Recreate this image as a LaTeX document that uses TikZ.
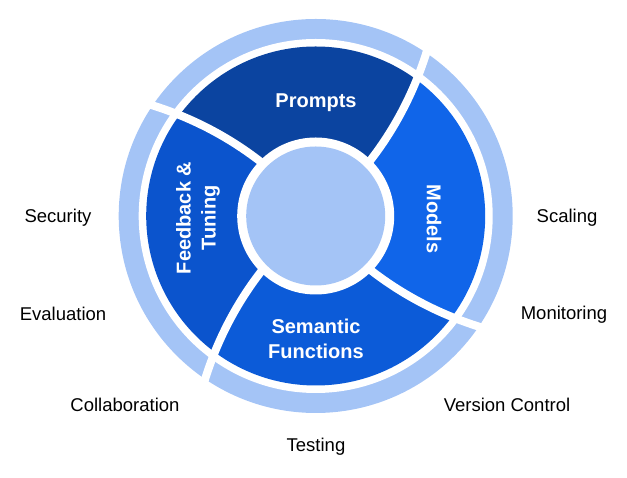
\documentclass[tikz,border=0pt]{standalone}
\usepackage{fontspec}
\setmainfont{Liberation Sans}
\definecolor{promptsblue}{RGB}{11,68,160}
\definecolor{modelsblue}{RGB}{16,101,233}
\definecolor{semanticblue}{RGB}{12,91,216}
\definecolor{feedbackblue}{RGB}{11,84,205}
\definecolor{paleblue}{RGB}{164,196,246}
\begin{document}
\begin{tikzpicture}[x=1pt,y=1pt,
  % angle of a spiral divider k at radius r
  declare function={spa(\k,\r)=45.5+90*\k+8*(\r-78)/92;},
  divider/.style={draw=white, line width=8pt},
  seglabel/.style={text=white, font=\fontsize{20}{25}\selectfont\bfseries, align=center, inner sep=0pt},
  outlabel/.style={text=black, font=\fontsize{18.5}{21}\selectfont, inner sep=0pt}]
\useasboundingbox (0,0) rectangle (627,478);
\begin{scope}[shift={(315.7,262)}]
  % outer pale ring
  \fill[paleblue] (0,0) circle (197);
  \fill[white] (0,0) circle (177);
  % four coloured sectors
  \begin{scope}
    \clip (0,0) circle (169.5);
    \foreach \k/\c in {0/promptsblue,1/feedbackblue,2/semanticblue,3/modelsblue} {
      \fill[\c] (0,0) -- plot[domain=0:300,samples=31] ({spa(\k,\x)}:{\x})
        -- plot[domain=300:0,samples=31] ({spa(\k+1,\x)}:{\x}) -- cycle;
    }
  \end{scope}
  % hub
  \fill[white] (0,0) circle (78.5);
  \fill[paleblue] (0,0) circle (69.5);
  % curved white dividers
  \foreach \k in {0,1,2,3} {
    \draw[divider] plot[domain=74:205,samples=27] ({spa(\k,\x)}:{\x});
  }
\end{scope}
% sector labels
\node[seglabel] (prompts) at (316,375.5) {Prompts};
\node[seglabel, rotate=-90] (models) at (434,259) {Models};
\node[seglabel, rotate=90] (feedback) at (198,260) {Feedback \&\\Tuning};
\node[seglabel] (semantic) at (316,139) {Semantic\\Functions};
% outer labels
\node[outlabel] (security) at (58,260) {Security};
\node[outlabel] (evaluation) at (63,164) {Evaluation};
\node[outlabel] (collaboration) at (125,73) {Collaboration};
\node[outlabel] (testing) at (316,31) {Testing};
\node[outlabel] (version) at (507,73) {Version Control};
\node[outlabel] (monitoring) at (564,163) {Monitoring};
\node[outlabel] (scaling) at (567,260) {Scaling};
\end{tikzpicture}
\end{document}
